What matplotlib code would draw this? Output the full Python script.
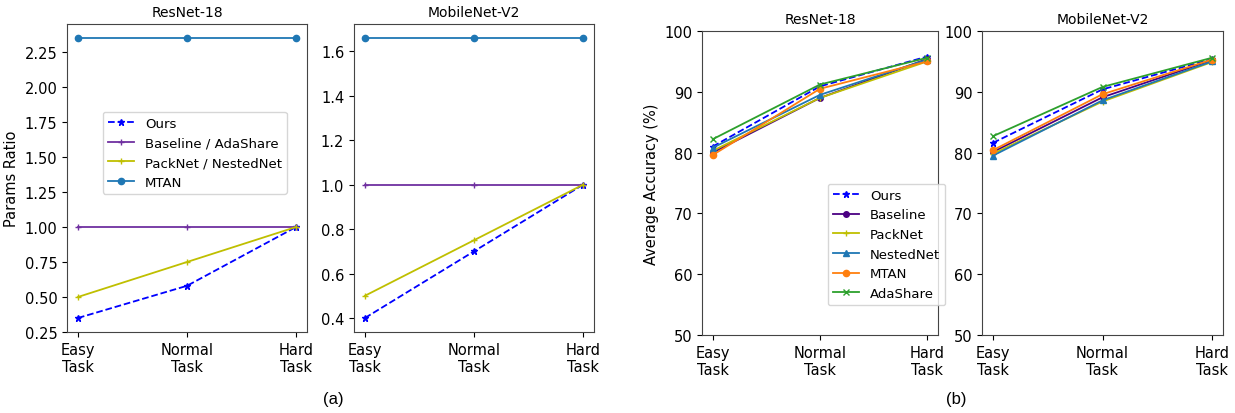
import matplotlib
matplotlib.use("Agg")
import matplotlib.pyplot as plt

tasks = ["Easy\nTask", "Normal\nTask", "Hard\nTask"]

# (a) Params ratio
p_res_ours = [0.35, 0.58, 1.0]
p_res_base = [1.0, 1.0, 1.0]
p_res_pack = [0.5, 0.75, 1.0]
p_res_mtan = [2.35, 2.35, 2.35]

p_mob_ours = [0.4, 0.7, 1.0]
p_mob_base = [1.0, 1.0, 1.0]
p_mob_pack = [0.5, 0.75, 1.0]
p_mob_mtan = [1.66, 1.66, 1.66]

# (b) Average accuracy
a_res_ours = [81.0, 90.9, 95.8]
a_res_base = [80.0, 89.0, 95.4]
a_res_pack = [80.3, 89.0, 95.0]
a_res_nest = [80.8, 89.5, 95.3]
a_res_mtan = [79.6, 90.5, 95.0]
a_res_ada = [82.2, 91.2, 95.6]

a_mob_ours = [81.6, 90.4, 95.4]
a_mob_base = [80.1, 89.1, 95.2]
a_mob_pack = [79.8, 88.4, 94.9]
a_mob_nest = [79.5, 88.6, 95.0]
a_mob_mtan = [80.4, 89.6, 95.3]
a_mob_ada = [82.7, 90.8, 95.6]

plt.rcParams['font.family'] = ['DejaVu Sans']
plt.rcParams['lines.markersize'] = 4.5
plt.rcParams['lines.linewidth'] = 1.3
fig = plt.figure(figsize=(12.35, 4.14), dpi=100)
W, H = 1235, 414

def ax_at(l, t, r, b):
    return fig.add_axes([l / W, 1 - b / H, (r - l) / W, (b - t) / H])

x = [0, 1, 2]
purple = '#7030a0'
indigo = '#4b0082'

ax1 = ax_at(67, 25, 307, 333)
ax1.plot(x, p_res_ours, 'b--', marker='*', label='Ours')
ax1.plot(x, p_res_base, color=purple, marker='+', label='Baseline / AdaShare')
ax1.plot(x, p_res_pack, color='y', marker='+', label='PackNet / NestedNet')
ax1.plot(x, p_res_mtan, color='tab:blue', marker='o', label='MTAN')
ax1.set_title('ResNet-18', fontsize=10)
ax1.set_ylabel('Params Ratio', fontsize=10.5)
ax1.set_yticks([0.25, 0.5, 0.75, 1.0, 1.25, 1.5, 1.75, 2.0, 2.25])
ax1.legend(loc='upper left', bbox_to_anchor=(96 / W, 1 - 106 / H), bbox_transform=fig.transFigure, fontsize=9.5)

ax2 = ax_at(354, 25, 594, 333)
ax2.plot(x, p_mob_ours, 'b--', marker='*')
ax2.plot(x, p_mob_base, color=purple, marker='+')
ax2.plot(x, p_mob_pack, color='y', marker='+')
ax2.plot(x, p_mob_mtan, color='tab:blue', marker='o')
ax2.set_title('MobileNet-V2', fontsize=10)

def acc(ax, ours, base, pack, nest, mtan, ada):
    ax.plot(x, ours, 'b--', marker='*', label='Ours')
    ax.plot(x, base, color=indigo, marker='o', markersize=4, label='Baseline')
    ax.plot(x, pack, color='y', marker='+', label='PackNet')
    ax.plot(x, nest, color='tab:blue', marker='^', label='NestedNet')
    ax.plot(x, mtan, color='tab:orange', marker='o', label='MTAN')
    ax.plot(x, ada, color='tab:green', marker='x', label='AdaShare')
    ax.set_ylim(50, 100)

ax3 = ax_at(702, 32, 938, 336)
acc(ax3, a_res_ours, a_res_base, a_res_pack, a_res_nest, a_res_mtan, a_res_ada)
ax3.set_title('ResNet-18', fontsize=10)
ax3.set_ylabel('Average Accuracy (%)', fontsize=10.5)
ax3.legend(loc='upper left', bbox_to_anchor=(821 / W, 1 - 178 / H), bbox_transform=fig.transFigure, fontsize=9.5)

ax4 = ax_at(982, 32, 1223, 336)
acc(ax4, a_mob_ours, a_mob_base, a_mob_pack, a_mob_nest, a_mob_mtan, a_mob_ada)
ax4.set_title('MobileNet-V2', fontsize=10)

for ax in (ax1, ax2, ax3, ax4):
    ax.set_xticks(x)
    ax.set_xticklabels(tasks)
    ax.tick_params(labelsize=10.5)
    for s in ax.spines.values():
        s.set_color('#444444')

fig.text(333 / W, 1 - 400 / H, '(a)', ha='center', va='center', fontsize=12, family='Liberation Sans')
fig.text(956 / W, 1 - 400 / H, '(b)', ha='center', va='center', fontsize=12, family='Liberation Sans')

fig.savefig('out.png', dpi=100)
